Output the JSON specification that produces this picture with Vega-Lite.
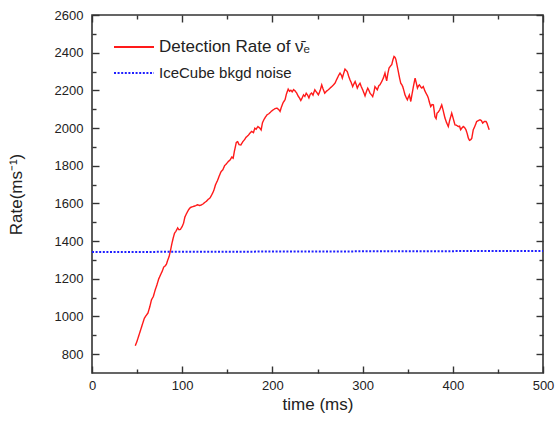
{
  "$schema": "https://vega.github.io/schema/vega-lite/v6.json",
  "width": 451,
  "height": 358,
  "autosize": {"type": "none"},
  "padding": {"left": 92, "top": 15, "right": 14, "bottom": 52},
  "background": "white",
  "config": {
    "font": "Liberation Sans",
    "view": {"stroke": "#333333", "strokeWidth": 1.6},
    "axis": {
      "grid": false,
      "domain": false,
      "tickColor": "#333333",
      "tickWidth": 1.4,
      "labelFont": "Liberation Sans",
      "labelFontSize": 13,
      "labelColor": "#222222",
      "titleFont": "Liberation Sans",
      "titleFontSize": 17,
      "titleFontWeight": "normal",
      "titleColor": "#222222"
    }
  },
  "datasets": {
    "det": [
      {"series": "Detection Rate of ν̄ₑ", "t": 48, "rate": 845},
      {"series": "Detection Rate of ν̄ₑ", "t": 50, "rate": 870},
      {"series": "Detection Rate of ν̄ₑ", "t": 52, "rate": 900},
      {"series": "Detection Rate of ν̄ₑ", "t": 54, "rate": 930},
      {"series": "Detection Rate of ν̄ₑ", "t": 56, "rate": 960},
      {"series": "Detection Rate of ν̄ₑ", "t": 58, "rate": 990},
      {"series": "Detection Rate of ν̄ₑ", "t": 60, "rate": 1005},
      {"series": "Detection Rate of ν̄ₑ", "t": 62, "rate": 1018},
      {"series": "Detection Rate of ν̄ₑ", "t": 64, "rate": 1050},
      {"series": "Detection Rate of ν̄ₑ", "t": 66, "rate": 1089},
      {"series": "Detection Rate of ν̄ₑ", "t": 68, "rate": 1106},
      {"series": "Detection Rate of ν̄ₑ", "t": 70, "rate": 1140},
      {"series": "Detection Rate of ν̄ₑ", "t": 72, "rate": 1168},
      {"series": "Detection Rate of ν̄ₑ", "t": 74, "rate": 1200},
      {"series": "Detection Rate of ν̄ₑ", "t": 76, "rate": 1221},
      {"series": "Detection Rate of ν̄ₑ", "t": 78, "rate": 1242},
      {"series": "Detection Rate of ν̄ₑ", "t": 79.5, "rate": 1262},
      {"series": "Detection Rate of ν̄ₑ", "t": 81, "rate": 1268},
      {"series": "Detection Rate of ν̄ₑ", "t": 82.5, "rate": 1277},
      {"series": "Detection Rate of ν̄ₑ", "t": 84, "rate": 1300},
      {"series": "Detection Rate of ν̄ₑ", "t": 85.5, "rate": 1318},
      {"series": "Detection Rate of ν̄ₑ", "t": 87, "rate": 1350},
      {"series": "Detection Rate of ν̄ₑ", "t": 88.5, "rate": 1385},
      {"series": "Detection Rate of ν̄ₑ", "t": 90, "rate": 1416},
      {"series": "Detection Rate of ν̄ₑ", "t": 91.5, "rate": 1442},
      {"series": "Detection Rate of ν̄ₑ", "t": 93, "rate": 1452},
      {"series": "Detection Rate of ν̄ₑ", "t": 95, "rate": 1470},
      {"series": "Detection Rate of ν̄ₑ", "t": 96.5, "rate": 1460},
      {"series": "Detection Rate of ν̄ₑ", "t": 98, "rate": 1462},
      {"series": "Detection Rate of ν̄ₑ", "t": 100, "rate": 1478},
      {"series": "Detection Rate of ν̄ₑ", "t": 101.5, "rate": 1495},
      {"series": "Detection Rate of ν̄ₑ", "t": 103, "rate": 1528},
      {"series": "Detection Rate of ν̄ₑ", "t": 105, "rate": 1548},
      {"series": "Detection Rate of ν̄ₑ", "t": 107, "rate": 1566},
      {"series": "Detection Rate of ν̄ₑ", "t": 109, "rate": 1578},
      {"series": "Detection Rate of ν̄ₑ", "t": 111, "rate": 1582},
      {"series": "Detection Rate of ν̄ₑ", "t": 113, "rate": 1585},
      {"series": "Detection Rate of ν̄ₑ", "t": 115, "rate": 1588},
      {"series": "Detection Rate of ν̄ₑ", "t": 117, "rate": 1593},
      {"series": "Detection Rate of ν̄ₑ", "t": 119, "rate": 1589},
      {"series": "Detection Rate of ν̄ₑ", "t": 121, "rate": 1591},
      {"series": "Detection Rate of ν̄ₑ", "t": 123, "rate": 1597},
      {"series": "Detection Rate of ν̄ₑ", "t": 125, "rate": 1605},
      {"series": "Detection Rate of ν̄ₑ", "t": 127, "rate": 1612},
      {"series": "Detection Rate of ν̄ₑ", "t": 129, "rate": 1622},
      {"series": "Detection Rate of ν̄ₑ", "t": 131, "rate": 1630},
      {"series": "Detection Rate of ν̄ₑ", "t": 133, "rate": 1648},
      {"series": "Detection Rate of ν̄ₑ", "t": 135, "rate": 1668},
      {"series": "Detection Rate of ν̄ₑ", "t": 137, "rate": 1700},
      {"series": "Detection Rate of ν̄ₑ", "t": 139, "rate": 1720},
      {"series": "Detection Rate of ν̄ₑ", "t": 141, "rate": 1745},
      {"series": "Detection Rate of ν̄ₑ", "t": 143, "rate": 1768},
      {"series": "Detection Rate of ν̄ₑ", "t": 145, "rate": 1778},
      {"series": "Detection Rate of ν̄ₑ", "t": 147, "rate": 1800},
      {"series": "Detection Rate of ν̄ₑ", "t": 149, "rate": 1810},
      {"series": "Detection Rate of ν̄ₑ", "t": 151, "rate": 1822},
      {"series": "Detection Rate of ν̄ₑ", "t": 153, "rate": 1830},
      {"series": "Detection Rate of ν̄ₑ", "t": 155, "rate": 1846},
      {"series": "Detection Rate of ν̄ₑ", "t": 156.5, "rate": 1840},
      {"series": "Detection Rate of ν̄ₑ", "t": 158, "rate": 1880},
      {"series": "Detection Rate of ν̄ₑ", "t": 160, "rate": 1924},
      {"series": "Detection Rate of ν̄ₑ", "t": 161.5, "rate": 1928},
      {"series": "Detection Rate of ν̄ₑ", "t": 163, "rate": 1912},
      {"series": "Detection Rate of ν̄ₑ", "t": 165, "rate": 1910},
      {"series": "Detection Rate of ν̄ₑ", "t": 167, "rate": 1926},
      {"series": "Detection Rate of ν̄ₑ", "t": 169, "rate": 1938},
      {"series": "Detection Rate of ν̄ₑ", "t": 171, "rate": 1952},
      {"series": "Detection Rate of ν̄ₑ", "t": 173, "rate": 1960},
      {"series": "Detection Rate of ν̄ₑ", "t": 175, "rate": 1972},
      {"series": "Detection Rate of ν̄ₑ", "t": 177, "rate": 1982},
      {"series": "Detection Rate of ν̄ₑ", "t": 179, "rate": 1976},
      {"series": "Detection Rate of ν̄ₑ", "t": 180.5, "rate": 1999},
      {"series": "Detection Rate of ν̄ₑ", "t": 182, "rate": 1994},
      {"series": "Detection Rate of ν̄ₑ", "t": 184, "rate": 2008},
      {"series": "Detection Rate of ν̄ₑ", "t": 186, "rate": 2000},
      {"series": "Detection Rate of ν̄ₑ", "t": 187.5, "rate": 1990},
      {"series": "Detection Rate of ν̄ₑ", "t": 189, "rate": 2028},
      {"series": "Detection Rate of ν̄ₑ", "t": 190.5, "rate": 2044},
      {"series": "Detection Rate of ν̄ₑ", "t": 192, "rate": 2056},
      {"series": "Detection Rate of ν̄ₑ", "t": 194, "rate": 2070},
      {"series": "Detection Rate of ν̄ₑ", "t": 196, "rate": 2076},
      {"series": "Detection Rate of ν̄ₑ", "t": 197.5, "rate": 2082},
      {"series": "Detection Rate of ν̄ₑ", "t": 199, "rate": 2090},
      {"series": "Detection Rate of ν̄ₑ", "t": 201, "rate": 2097},
      {"series": "Detection Rate of ν̄ₑ", "t": 203, "rate": 2103},
      {"series": "Detection Rate of ν̄ₑ", "t": 205, "rate": 2106},
      {"series": "Detection Rate of ν̄ₑ", "t": 207, "rate": 2098},
      {"series": "Detection Rate of ν̄ₑ", "t": 208.5, "rate": 2088},
      {"series": "Detection Rate of ν̄ₑ", "t": 210, "rate": 2112},
      {"series": "Detection Rate of ν̄ₑ", "t": 212, "rate": 2136},
      {"series": "Detection Rate of ν̄ₑ", "t": 214, "rate": 2150},
      {"series": "Detection Rate of ν̄ₑ", "t": 215.5, "rate": 2180},
      {"series": "Detection Rate of ν̄ₑ", "t": 217.5, "rate": 2207},
      {"series": "Detection Rate of ν̄ₑ", "t": 219, "rate": 2195},
      {"series": "Detection Rate of ν̄ₑ", "t": 220.5, "rate": 2201},
      {"series": "Detection Rate of ν̄ₑ", "t": 222, "rate": 2192},
      {"series": "Detection Rate of ν̄ₑ", "t": 223.5, "rate": 2204},
      {"series": "Detection Rate of ν̄ₑ", "t": 225, "rate": 2198},
      {"series": "Detection Rate of ν̄ₑ", "t": 227, "rate": 2185},
      {"series": "Detection Rate of ν̄ₑ", "t": 228.5, "rate": 2170},
      {"series": "Detection Rate of ν̄ₑ", "t": 230, "rate": 2160},
      {"series": "Detection Rate of ν̄ₑ", "t": 231.5, "rate": 2146},
      {"series": "Detection Rate of ν̄ₑ", "t": 233, "rate": 2160},
      {"series": "Detection Rate of ν̄ₑ", "t": 234.5, "rate": 2176},
      {"series": "Detection Rate of ν̄ₑ", "t": 236, "rate": 2168},
      {"series": "Detection Rate of ν̄ₑ", "t": 237.5, "rate": 2185},
      {"series": "Detection Rate of ν̄ₑ", "t": 239, "rate": 2175},
      {"series": "Detection Rate of ν̄ₑ", "t": 240.5, "rate": 2160},
      {"series": "Detection Rate of ν̄ₑ", "t": 242, "rate": 2180},
      {"series": "Detection Rate of ν̄ₑ", "t": 243.5, "rate": 2186},
      {"series": "Detection Rate of ν̄ₑ", "t": 245, "rate": 2175},
      {"series": "Detection Rate of ν̄ₑ", "t": 247, "rate": 2203},
      {"series": "Detection Rate of ν̄ₑ", "t": 249, "rate": 2190},
      {"series": "Detection Rate of ν̄ₑ", "t": 251, "rate": 2176},
      {"series": "Detection Rate of ν̄ₑ", "t": 253, "rate": 2200},
      {"series": "Detection Rate of ν̄ₑ", "t": 254.7, "rate": 2229},
      {"series": "Detection Rate of ν̄ₑ", "t": 256, "rate": 2210},
      {"series": "Detection Rate of ν̄ₑ", "t": 258, "rate": 2185},
      {"series": "Detection Rate of ν̄ₑ", "t": 260, "rate": 2196},
      {"series": "Detection Rate of ν̄ₑ", "t": 262, "rate": 2203},
      {"series": "Detection Rate of ν̄ₑ", "t": 264, "rate": 2212},
      {"series": "Detection Rate of ν̄ₑ", "t": 265.8, "rate": 2220},
      {"series": "Detection Rate of ν̄ₑ", "t": 267.5, "rate": 2228},
      {"series": "Detection Rate of ν̄ₑ", "t": 269.4, "rate": 2238},
      {"series": "Detection Rate of ν̄ₑ", "t": 271, "rate": 2255},
      {"series": "Detection Rate of ν̄ₑ", "t": 272, "rate": 2265},
      {"series": "Detection Rate of ν̄ₑ", "t": 273.5, "rate": 2280},
      {"series": "Detection Rate of ν̄ₑ", "t": 275, "rate": 2292},
      {"series": "Detection Rate of ν̄ₑ", "t": 276.5, "rate": 2280},
      {"series": "Detection Rate of ν̄ₑ", "t": 277.5, "rate": 2265},
      {"series": "Detection Rate of ν̄ₑ", "t": 279, "rate": 2290},
      {"series": "Detection Rate of ν̄ₑ", "t": 280.5, "rate": 2313},
      {"series": "Detection Rate of ν̄ₑ", "t": 282, "rate": 2305},
      {"series": "Detection Rate of ν̄ₑ", "t": 283, "rate": 2300},
      {"series": "Detection Rate of ν̄ₑ", "t": 284.5, "rate": 2276},
      {"series": "Detection Rate of ν̄ₑ", "t": 286, "rate": 2256},
      {"series": "Detection Rate of ν̄ₑ", "t": 287.5, "rate": 2240},
      {"series": "Detection Rate of ν̄ₑ", "t": 289, "rate": 2220},
      {"series": "Detection Rate of ν̄ₑ", "t": 290.5, "rate": 2236},
      {"series": "Detection Rate of ν̄ₑ", "t": 291.7, "rate": 2247},
      {"series": "Detection Rate of ν̄ₑ", "t": 293, "rate": 2230},
      {"series": "Detection Rate of ν̄ₑ", "t": 294.1, "rate": 2212},
      {"series": "Detection Rate of ν̄ₑ", "t": 295.5, "rate": 2226},
      {"series": "Detection Rate of ν̄ₑ", "t": 297.1, "rate": 2238},
      {"series": "Detection Rate of ν̄ₑ", "t": 298.5, "rate": 2220},
      {"series": "Detection Rate of ν̄ₑ", "t": 300.1, "rate": 2203},
      {"series": "Detection Rate of ν̄ₑ", "t": 301.5, "rate": 2186},
      {"series": "Detection Rate of ν̄ₑ", "t": 302.7, "rate": 2171},
      {"series": "Detection Rate of ν̄ₑ", "t": 304, "rate": 2190},
      {"series": "Detection Rate of ν̄ₑ", "t": 305.7, "rate": 2212},
      {"series": "Detection Rate of ν̄ₑ", "t": 307, "rate": 2200},
      {"series": "Detection Rate of ν̄ₑ", "t": 308.2, "rate": 2185},
      {"series": "Detection Rate of ν̄ₑ", "t": 310, "rate": 2175},
      {"series": "Detection Rate of ν̄ₑ", "t": 311.2, "rate": 2167},
      {"series": "Detection Rate of ν̄ₑ", "t": 312.5, "rate": 2190},
      {"series": "Detection Rate of ν̄ₑ", "t": 313.7, "rate": 2220},
      {"series": "Detection Rate of ν̄ₑ", "t": 315, "rate": 2212},
      {"series": "Detection Rate of ν̄ₑ", "t": 316.3, "rate": 2203},
      {"series": "Detection Rate of ν̄ₑ", "t": 318, "rate": 2225},
      {"series": "Detection Rate of ν̄ₑ", "t": 319.3, "rate": 2230},
      {"series": "Detection Rate of ν̄ₑ", "t": 321, "rate": 2245},
      {"series": "Detection Rate of ν̄ₑ", "t": 323, "rate": 2265},
      {"series": "Detection Rate of ν̄ₑ", "t": 324.8, "rate": 2292},
      {"series": "Detection Rate of ν̄ₑ", "t": 326.7, "rate": 2250},
      {"series": "Detection Rate of ν̄ₑ", "t": 328, "rate": 2290},
      {"series": "Detection Rate of ν̄ₑ", "t": 329.3, "rate": 2318},
      {"series": "Detection Rate of ν̄ₑ", "t": 331, "rate": 2330},
      {"series": "Detection Rate of ν̄ₑ", "t": 332.3, "rate": 2336},
      {"series": "Detection Rate of ν̄ₑ", "t": 333.5, "rate": 2360},
      {"series": "Detection Rate of ν̄ₑ", "t": 334.8, "rate": 2380},
      {"series": "Detection Rate of ν̄ₑ", "t": 336, "rate": 2375},
      {"series": "Detection Rate of ν̄ₑ", "t": 337, "rate": 2362},
      {"series": "Detection Rate of ν̄ₑ", "t": 338.3, "rate": 2330},
      {"series": "Detection Rate of ν̄ₑ", "t": 339.6, "rate": 2300},
      {"series": "Detection Rate of ν̄ₑ", "t": 341, "rate": 2265},
      {"series": "Detection Rate of ν̄ₑ", "t": 342.3, "rate": 2238},
      {"series": "Detection Rate of ν̄ₑ", "t": 343.5, "rate": 2230},
      {"series": "Detection Rate of ν̄ₑ", "t": 344.5, "rate": 2220},
      {"series": "Detection Rate of ν̄ₑ", "t": 346, "rate": 2195},
      {"series": "Detection Rate of ν̄ₑ", "t": 347, "rate": 2176},
      {"series": "Detection Rate of ν̄ₑ", "t": 348.5, "rate": 2160},
      {"series": "Detection Rate of ν̄ₑ", "t": 349.6, "rate": 2150},
      {"series": "Detection Rate of ν̄ₑ", "t": 350.8, "rate": 2165},
      {"series": "Detection Rate of ν̄ₑ", "t": 351.8, "rate": 2176},
      {"series": "Detection Rate of ν̄ₑ", "t": 353.4, "rate": 2141},
      {"series": "Detection Rate of ν̄ₑ", "t": 355, "rate": 2185},
      {"series": "Detection Rate of ν̄ₑ", "t": 356.3, "rate": 2220},
      {"series": "Detection Rate of ν̄ₑ", "t": 358.2, "rate": 2265},
      {"series": "Detection Rate of ν̄ₑ", "t": 359.5, "rate": 2240},
      {"series": "Detection Rate of ν̄ₑ", "t": 360.8, "rate": 2212},
      {"series": "Detection Rate of ν̄ₑ", "t": 362, "rate": 2225},
      {"series": "Detection Rate of ν̄ₑ", "t": 363, "rate": 2229},
      {"series": "Detection Rate of ν̄ₑ", "t": 364.5, "rate": 2218},
      {"series": "Detection Rate of ν̄ₑ", "t": 365.7, "rate": 2212},
      {"series": "Detection Rate of ν̄ₑ", "t": 367.3, "rate": 2220},
      {"series": "Detection Rate of ν̄ₑ", "t": 368.8, "rate": 2200},
      {"series": "Detection Rate of ν̄ₑ", "t": 370.3, "rate": 2185},
      {"series": "Detection Rate of ν̄ₑ", "t": 372, "rate": 2170},
      {"series": "Detection Rate of ν̄ₑ", "t": 372.9, "rate": 2159},
      {"series": "Detection Rate of ν̄ₑ", "t": 374, "rate": 2138},
      {"series": "Detection Rate of ν̄ₑ", "t": 375.5, "rate": 2114},
      {"series": "Detection Rate of ν̄ₑ", "t": 377, "rate": 2125},
      {"series": "Detection Rate of ν̄ₑ", "t": 378.5, "rate": 2123},
      {"series": "Detection Rate of ν̄ₑ", "t": 380.2, "rate": 2060},
      {"series": "Detection Rate of ν̄ₑ", "t": 381.5, "rate": 2050},
      {"series": "Detection Rate of ν̄ₑ", "t": 382.5, "rate": 2079},
      {"series": "Detection Rate of ν̄ₑ", "t": 384, "rate": 2085},
      {"series": "Detection Rate of ν̄ₑ", "t": 385.5, "rate": 2097},
      {"series": "Detection Rate of ν̄ₑ", "t": 387.7, "rate": 2123},
      {"series": "Detection Rate of ν̄ₑ", "t": 389.5, "rate": 2090},
      {"series": "Detection Rate of ν̄ₑ", "t": 391.3, "rate": 2053},
      {"series": "Detection Rate of ν̄ₑ", "t": 393, "rate": 2030},
      {"series": "Detection Rate of ν̄ₑ", "t": 395, "rate": 2008},
      {"series": "Detection Rate of ν̄ₑ", "t": 396.5, "rate": 2040},
      {"series": "Detection Rate of ν̄ₑ", "t": 398.8, "rate": 2079},
      {"series": "Detection Rate of ν̄ₑ", "t": 400.5, "rate": 2050},
      {"series": "Detection Rate of ν̄ₑ", "t": 402.4, "rate": 2017},
      {"series": "Detection Rate of ν̄ₑ", "t": 404, "rate": 2015},
      {"series": "Detection Rate of ν̄ₑ", "t": 406.1, "rate": 2008},
      {"series": "Detection Rate of ν̄ₑ", "t": 407.5, "rate": 2010},
      {"series": "Detection Rate of ν̄ₑ", "t": 408.7, "rate": 1991},
      {"series": "Detection Rate of ν̄ₑ", "t": 410, "rate": 2000},
      {"series": "Detection Rate of ν̄ₑ", "t": 411.6, "rate": 2008},
      {"series": "Detection Rate of ν̄ₑ", "t": 413, "rate": 2003},
      {"series": "Detection Rate of ν̄ₑ", "t": 414.6, "rate": 1991},
      {"series": "Detection Rate of ν̄ₑ", "t": 416, "rate": 1970},
      {"series": "Detection Rate of ν̄ₑ", "t": 417.2, "rate": 1947},
      {"series": "Detection Rate of ν̄ₑ", "t": 418.5, "rate": 1935},
      {"series": "Detection Rate of ν̄ₑ", "t": 419.8, "rate": 1938},
      {"series": "Detection Rate of ν̄ₑ", "t": 421, "rate": 1945},
      {"series": "Detection Rate of ν̄ₑ", "t": 422.7, "rate": 1991},
      {"series": "Detection Rate of ν̄ₑ", "t": 424.5, "rate": 2010},
      {"series": "Detection Rate of ν̄ₑ", "t": 426.5, "rate": 2035},
      {"series": "Detection Rate of ν̄ₑ", "t": 428.3, "rate": 2040},
      {"series": "Detection Rate of ν̄ₑ", "t": 430.2, "rate": 2044},
      {"series": "Detection Rate of ν̄ₑ", "t": 431.7, "rate": 2040},
      {"series": "Detection Rate of ν̄ₑ", "t": 433.1, "rate": 2026},
      {"series": "Detection Rate of ν̄ₑ", "t": 435, "rate": 2035},
      {"series": "Detection Rate of ν̄ₑ", "t": 436.8, "rate": 2035},
      {"series": "Detection Rate of ν̄ₑ", "t": 438, "rate": 2025},
      {"series": "Detection Rate of ν̄ₑ", "t": 439.3, "rate": 2005},
      {"series": "Detection Rate of ν̄ₑ", "t": 440.4, "rate": 1991}
    ],
    "noise": [
      {"series": "IceCube bkgd noise", "t": 0, "rate": 1342},
      {"series": "IceCube bkgd noise", "t": 500, "rate": 1348}
    ]
  },
  "layer": [
    {
      "data": {"name": "det"},
      "mark": {"type": "line", "strokeWidth": 1.4},
      "encoding": {
        "x": {
          "field": "t", "type": "quantitative",
          "scale": {"domain": [0, 500], "nice": false, "zero": false},
          "axis": {
            "orient": "bottom",
            "title": "time (ms)",
            "titlePadding": 4,
            "values": [0, 100, 200, 300, 400, 500],
            "tickSize": -7,
            "labelPadding": 13,
            "labelFlush": false
          }
        },
        "y": {
          "field": "rate", "type": "quantitative",
          "scale": {"domain": [700, 2600], "nice": false, "zero": false},
          "axis": {
            "orient": "left",
            "title": "Rate(ms⁻¹)",
            "titlePadding": 29,
            "format": "d",
            "values": [800, 1000, 1200, 1400, 1600, 1800, 2000, 2200, 2400, 2600],
            "tickSize": -7,
            "labelPadding": 16,
            "labelFlush": false
          }
        },
        "color": {
          "field": "series", "type": "nominal",
          "scale": {"domain": ["Detection Rate of ν̄ₑ", "IceCube bkgd noise"], "range": ["#ff1a1a", "#1f1fff"]},
          "legend": {
            "orient": "none",
            "legendX": 21,
            "legendY": 19,
            "title": null,
            "padding": 0,
            "symbolType": "stroke",
            "symbolSize": 1600,
            "symbolStrokeWidth": 2,
            "labelFont": "Liberation Sans",
            "labelFontSize": 16,
            "labelColor": "#222222",
            "labelOffset": 4,
            "rowPadding": 0,
            "clipHeight": 26,
            "labelLimit": 300,
            "encode": {"labels": {"update": {"fontSize": {"signal": "datum.label === 'IceCube bkgd noise' ? 15 : 17"}}}}
          }
        },
        "strokeDash": {
          "field": "series", "type": "nominal",
          "scale": {"domain": ["Detection Rate of ν̄ₑ", "IceCube bkgd noise"], "range": [[1, 0], [2, 1.6]]},
          "legend": {
            "orient": "none",
            "legendX": 21,
            "legendY": 19,
            "title": null,
            "padding": 0,
            "symbolType": "stroke",
            "symbolSize": 1600,
            "symbolStrokeWidth": 2,
            "labelFont": "Liberation Sans",
            "labelFontSize": 16,
            "labelColor": "#222222",
            "labelOffset": 4,
            "rowPadding": 0,
            "clipHeight": 26,
            "labelLimit": 300,
            "encode": {"labels": {"update": {"fontSize": {"signal": "datum.label === 'IceCube bkgd noise' ? 15 : 17"}}}}
          }
        }
      }
    },
    {
      "data": {"name": "noise"},
      "mark": {"type": "line", "strokeWidth": 2},
      "encoding": {
        "x": {
          "field": "t", "type": "quantitative",
          "axis": {"orient": "top", "title": null, "labels": false, "values": [0, 100, 200, 300, 400, 500], "tickSize": -7}
        },
        "y": {
          "field": "rate", "type": "quantitative",
          "axis": {"orient": "right", "title": null, "labels": false, "values": [800, 1000, 1200, 1400, 1600, 1800, 2000, 2200, 2400, 2600], "tickSize": -7}
        },
        "color": {"field": "series", "type": "nominal"},
        "strokeDash": {"field": "series", "type": "nominal"}
      }
    },
    {
      "data": {"name": "det"},
      "mark": {"type": "line", "opacity": 0},
      "encoding": {
        "x": {
          "field": "t", "type": "quantitative",
          "axis": {"orient": "bottom", "title": null, "labels": false, "values": [50, 150, 250, 350, 450], "tickSize": -4}
        },
        "y": {
          "field": "rate", "type": "quantitative",
          "axis": {"orient": "left", "title": null, "labels": false, "values": [900, 1100, 1300, 1500, 1700, 1900, 2100, 2300, 2500], "tickSize": -4}
        }
      }
    },
    {
      "data": {"name": "noise"},
      "mark": {"type": "line", "opacity": 0},
      "encoding": {
        "x": {
          "field": "t", "type": "quantitative",
          "axis": {"orient": "top", "title": null, "labels": false, "values": [50, 150, 250, 350, 450], "tickSize": -4}
        },
        "y": {
          "field": "rate", "type": "quantitative",
          "axis": {"orient": "right", "title": null, "labels": false, "values": [900, 1100, 1300, 1500, 1700, 1900, 2100, 2300, 2500], "tickSize": -4}
        }
      }
    }
  ],
  "resolve": {"axis": {"x": "independent", "y": "independent"}}
}
